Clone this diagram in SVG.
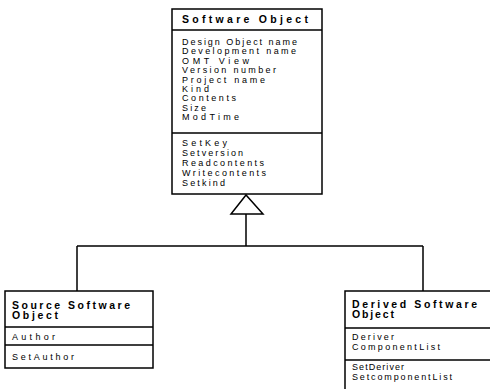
<svg xmlns="http://www.w3.org/2000/svg" width="490" height="389" viewBox="0 0 490 389">
<style>
  .box { fill: #fff; stroke: #000; stroke-width: 1.5; }
  .ln { fill: none; stroke: #000; stroke-width: 1.5; }
  .title { font-family: "Liberation Sans", Arial, sans-serif; font-weight: bold; font-size: 10.5px; fill: #000; }
  .item { font-family: "Liberation Sans", Arial, sans-serif; font-size: 9px; fill: #000; }
</style>
<rect width="490" height="389" fill="#fff"/>
<g id="connectors">
  <polygon class="box" points="246,195 231,214 263,214"/>
  <path class="ln" d="M246 214 V246 M77 246 H423 M77 246 V291 M423 246 V291"/>
</g>
<g id="software-object">
  <rect class="box" x="172" y="9" width="150" height="185"/>
  <path class="ln" d="M172 30 H322 M172 133 H322"/>
  <text class="title" x="182" y="23" textLength="126" lengthAdjust="spacing">Software Object</text>
  <text class="item" x="182" y="45" textLength="115" lengthAdjust="spacing">Design Object name</text>
  <text class="item" x="182" y="54.4" textLength="114" lengthAdjust="spacing">Development name</text>
  <text class="item" x="182" y="63.8" textLength="67" lengthAdjust="spacing">OMT View</text>
  <text class="item" x="182" y="73.2" textLength="94" lengthAdjust="spacing">Version number</text>
  <text class="item" x="182" y="82.6" textLength="83" lengthAdjust="spacing">Project name</text>
  <text class="item" x="182" y="92" textLength="27" lengthAdjust="spacing">Kind</text>
  <text class="item" x="182" y="101.4" textLength="54" lengthAdjust="spacing">Contents</text>
  <text class="item" x="182" y="110.8" textLength="24" lengthAdjust="spacing">Size</text>
  <text class="item" x="182" y="120.2" textLength="57" lengthAdjust="spacing">ModTime</text>
  <text class="item" x="182" y="146" textLength="45" lengthAdjust="spacing">SetKey</text>
  <text class="item" x="182" y="156" textLength="61" lengthAdjust="spacing">Setversion</text>
  <text class="item" x="182" y="166" textLength="82" lengthAdjust="spacing">Readcontents</text>
  <text class="item" x="182" y="176" textLength="84" lengthAdjust="spacing">Writecontents</text>
  <text class="item" x="182" y="186" textLength="43" lengthAdjust="spacing">Setkind</text>
</g>
<g id="source-software-object">
  <rect class="box" x="5" y="291" width="148" height="77"/>
  <path class="ln" d="M5 327 H153 M5 345 H153"/>
  <text class="title" x="12" y="309" textLength="118" lengthAdjust="spacing">Source Software</text>
  <text class="title" x="12" y="319" textLength="46" lengthAdjust="spacing">Object</text>
  <text class="item" x="12" y="340" textLength="43" lengthAdjust="spacing">Author</text>
  <text class="item" x="12" y="360" textLength="62" lengthAdjust="spacing">SetAuthor</text>
</g>
<g id="derived-software-object">
  <path class="ln" d="M490 291 H345 V389 M345 328 H490 M345 360 H490"/>
  <text class="title" x="352" y="308" textLength="125" lengthAdjust="spacing">Derived Software</text>
  <text class="title" x="352" y="318" textLength="42" lengthAdjust="spacing">Object</text>
  <text class="item" x="352" y="340" textLength="42" lengthAdjust="spacing">Deriver</text>
  <text class="item" x="352" y="350" textLength="88" lengthAdjust="spacing">ComponentList</text>
  <text class="item" x="352" y="370" textLength="52" lengthAdjust="spacing">SetDeriver</text>
  <text class="item" x="352" y="380" textLength="100" lengthAdjust="spacing">SetcomponentList</text>
</g>
</svg>
